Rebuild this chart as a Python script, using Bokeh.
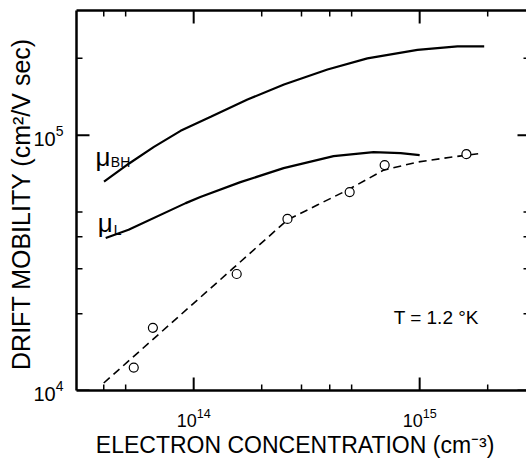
import math
from bokeh.plotting import figure
from bokeh.models import Range1d, FixedTicker, LogAxis
from bokeh.core.properties import value
from bokeh.embed import file_html
from bokeh.resources import INLINE

# ---- data ----
n_bh = [4.01e13, 5.18e13, 6.67e13, 8.75e13, 1.19e14, 1.73e14, 2.51e14, 3.91e14, 5.87e14, 9.78e14, 1.47e15, 1.93e15]
mu_bh = [6.58e4, 7.75e4, 9.0e4, 1.04e5, 1.18e5, 1.38e5, 1.58e5, 1.81e5, 2.0e5, 2.16e5, 2.23e5, 2.23e5]

n_l = [4.08e13, 5.15e13, 9.22e13, 1.07e14, 1.61e14, 2.5e14, 4.16e14, 6.25e14, 8.24e14, 1.0e15]
mu_l = [3.96e4, 4.26e4, 5.42e4, 5.73e4, 6.55e4, 7.43e4, 8.28e4, 8.59e4, 8.51e4, 8.36e4]

n_fit = [4.0e13, 1.5e14, 2.6e14, 3.54e14, 4.8e14, 6.93e14, 9.8e14, 1.37e15, 1.9e15]
mu_fit = [1.07e4, 3.02e4, 4.66e4, 5.34e4, 6.1e4, 7.3e4, 7.85e4, 8.2e4, 8.5e4]

n_meas = [5.43e13, 6.6e13, 1.55e14, 2.6e14, 4.9e14, 7.0e14, 1.61e15]
mu_meas = [1.23e4, 1.76e4, 2.86e4, 4.7e4, 5.99e4, 7.64e4, 8.43e4]

x_major = [1e14, 1e15]
x_minor = [4e13, 5e13, 2e14, 3e14, 4e14, 5e14, 2e15]
y_major = [1e4, 1e5]
y_minor = [2e4, 3e4, 4e4, 5e4, 2e5]

X_LO, X_HI = 3.03e13, 2.97e15
Y_LO, Y_HI = 1e4, 3.08e5

FONT = "Liberation Sans"
W, H = 526, 460
B_LEFT, B_RIGHT, B_TOP, B_BOTTOM = 76, 0, 10, 69

p = figure(width=W, height=H, x_axis_type="log", y_axis_type="log",
           x_range=Range1d(X_LO, X_HI), y_range=Range1d(Y_LO, Y_HI),
           output_backend="svg", toolbar_location=None,
           min_border_left=B_LEFT, min_border_right=B_RIGHT,
           min_border_top=B_TOP, min_border_bottom=B_BOTTOM,
           background_fill_color="white", border_fill_color="white")
p.grid.visible = False
p.outline_line_color = None


def style(ax):
    ax.axis_line_width = 2.5
    ax.axis_line_color = "black"
    ax.major_tick_in = 0
    ax.major_tick_out = 0
    ax.minor_tick_in = 0
    ax.minor_tick_out = 0
    ax.major_label_text_font = FONT
    ax.major_label_text_color = "black"
    ax.axis_label_text_font = FONT
    ax.axis_label_text_font_style = "normal"
    ax.axis_label_text_color = "black"


xa = p.xaxis[0]
xa.ticker = FixedTicker(ticks=x_major, minor_ticks=x_minor)
style(xa)
xa.major_label_text_font_size = "18px"
xa.major_label_standoff = 17
xa.axis_label = "ELECTRON  CONCENTRATION  (cm⁻³)"
xa.axis_label_text_font_size = "23px"
xa.axis_label_standoff = 2

ya = p.yaxis[0]
ya.ticker = FixedTicker(ticks=y_major, minor_ticks=y_minor)
style(ya)
ya.major_label_text_font_size = "20px"
ya.major_label_standoff = 13
ya.axis_label = "DRIFT MOBILITY  (cm²/V sec)"
ya.axis_label_text_font_size = "25px"
ya.axis_label_standoff = -5

top = LogAxis(ticker=FixedTicker(ticks=x_major, minor_ticks=x_minor))
style(top)
top.major_label_text_font_size = "1px"
top.major_label_text_alpha = 0
top.major_label_standoff = 0
p.add_layout(top, "above")

# ---- inward tick marks at the tick values (lengths given in pixels) ----
px_x = (W - B_LEFT - B_RIGHT) / math.log10(X_HI / X_LO)   # pixels per decade, x
px_y = (H - B_TOP - B_BOTTOM) / math.log10(Y_HI / Y_LO)   # pixels per decade, y
NAN = float("nan")


def fx(px):
    return 10 ** (px / px_x)


def fy(px):
    return 10 ** (px / px_y)


def tick_path_x(vals, length):
    xs, ys = [], []
    for v in vals:
        xs += [v, v, NAN, v, v, NAN]
        ys += [Y_LO / fy(2), Y_LO * fy(length), NAN, Y_HI * fy(2), Y_HI / fy(length), NAN]
    return xs, ys


def tick_path_y(vals, length_l, length_r):
    xs, ys = [], []
    for v in vals:
        xs += [X_LO / fx(2), X_LO * fx(length_l), NAN, X_HI * fx(2), X_HI / fx(length_r), NAN]
        ys += [v, v, NAN, v, v, NAN]
    return xs, ys


for (xs, ys), w in [(tick_path_x(x_major, 13), 2), (tick_path_x(x_minor, 6), 1.5),
                    (tick_path_y(y_major, 13, 9), 2), (tick_path_y(y_minor, 6, 3), 1.5)]:
    p.line(xs, ys, line_color="black", line_width=w)

# curves
p.line(n_bh, mu_bh, line_color="black", line_width=2.2)
p.line(n_l, mu_l, line_color="black", line_width=2.2)
p.line(n_fit, mu_fit, line_color="black", line_width=1.6, line_dash="8 5")
p.scatter(n_meas, mu_meas, marker="circle", size=9, fill_color="white",
          line_color="black", line_width=1.2)

# annotations
p.text(x=[3.68e13], y=[8.2e4], text=["μ"], text_font=value(FONT), text_font_size="26px",
       text_baseline="alphabetic", text_align="left", text_color="black")
p.text(x=[4.3e13], y=[7.85e4], text=["BH"], text_font=value(FONT), text_font_size="14px",
       text_baseline="alphabetic", text_align="left", text_color="black")
p.text(x=[3.76e13], y=[4.53e4], text=["μ"], text_font=value(FONT), text_font_size="26px",
       text_baseline="alphabetic", text_align="left", text_color="black")
p.text(x=[4.43e13], y=[4.26e4], text=["L"], text_font=value(FONT), text_font_size="14px",
       text_baseline="alphabetic", text_align="left", text_color="black")
p.text(x=[7.67e14], y=[1.93e4], text=["T = 1.2 °K"], text_font=value(FONT), text_font_size="19px",
       text_baseline="alphabetic", text_align="left", text_color="black")

open("out.html", "w").write(file_html(p, INLINE))
